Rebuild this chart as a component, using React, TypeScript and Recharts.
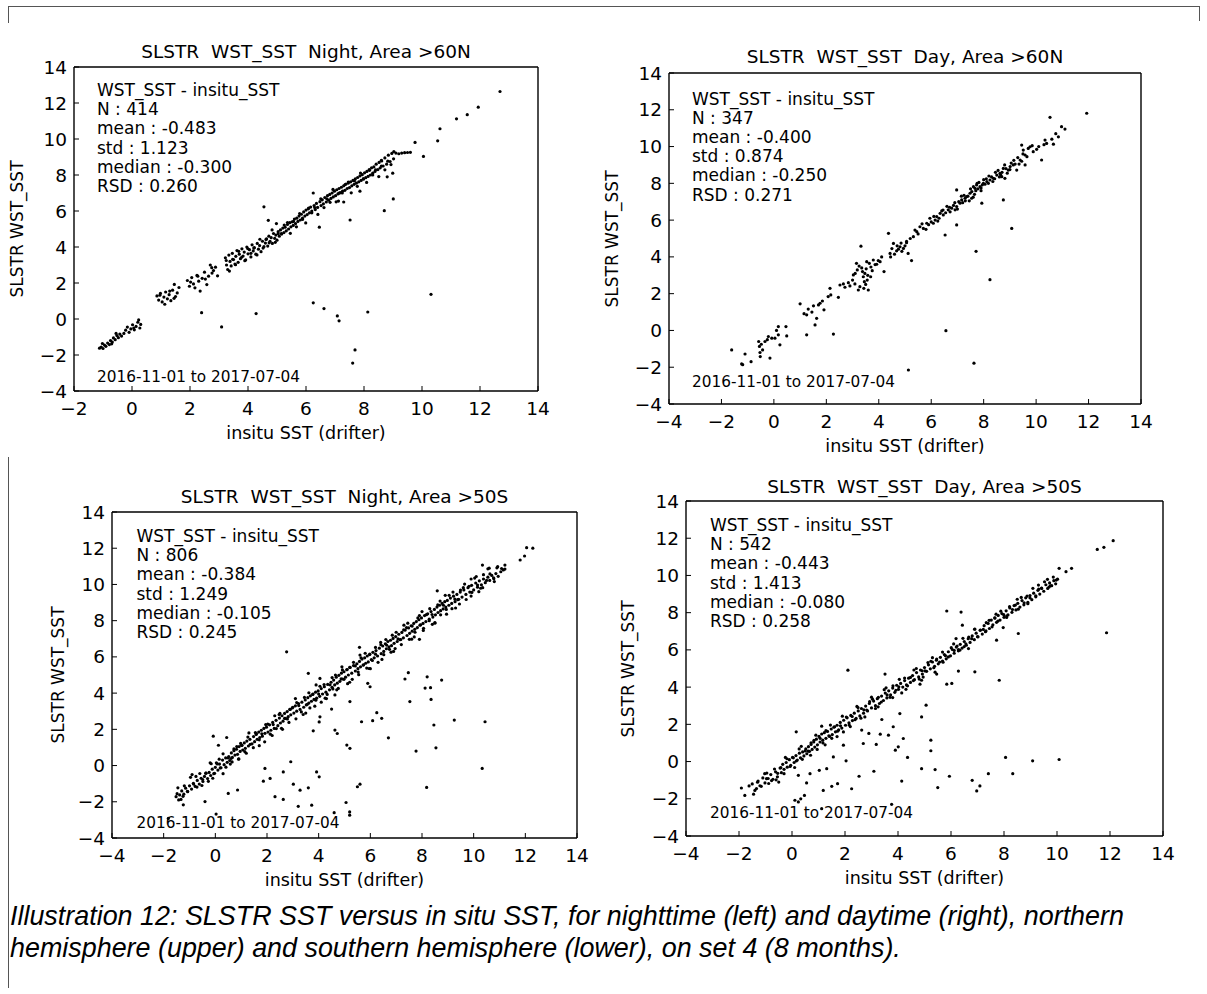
import React from 'react';
import { ScatterChart, Scatter, XAxis, YAxis } from 'recharts';

type Pt = [number, number];

// axis ticks
const yTicks = [-4, -2, 0, 2, 4, 6, 8, 10, 12, 14];
const xTicksNarrow = [-2, 0, 2, 4, 6, 8, 10, 12, 14];
const xTicksWide = [-4, -2, 0, 2, 4, 6, 8, 10, 12, 14];

const dateRange = '2016-11-01 to 2017-07-04';

// ---- Night, Area >60N ----
const nightNorthBand: Pt[] = [
  [-1.12, -1.62], [-1.06, -1.56], [-1.0, -1.64], [-0.95, -1.45], [-0.9, -1.52], [-0.84, -1.34], [-0.78, -1.42],
  [-0.74, -1.2], [-0.68, -1.28], [-0.64, -1.05], [-0.58, -1.15], [-0.52, -0.92], [-0.47, -1.04], [-0.42, -0.84],
  [-0.36, -0.95], [-0.22, -0.62], [-0.16, -0.45], [-0.1, -0.74], [-0.04, -0.55], [0.02, -0.32], [0.08, -0.6],
  [0.14, -0.41], [0.2, -0.18], [0.27, -0.5], [0.3, -0.3],
  [0.86, 1.28], [0.92, 1.05], [0.98, 1.42], [1.04, 0.95], [1.1, 1.22], [1.16, 1.5], [1.22, 1.12], [1.28, 1.35],
  [1.34, 1.02], [1.4, 1.6], [1.46, 1.92], [1.5, 1.25], [1.56, 1.45], [1.62, 1.75],
  [1.91, 2.14], [1.98, 1.82], [2.06, 2.3], [2.12, 1.95], [2.17, 1.73], [2.24, 2.42], [2.3, 2.1], [2.35, 1.55],
  [2.42, 2.26], [2.5, 2.6], [2.58, 1.91], [2.64, 2.38], [2.7, 3.0], [2.76, 2.55], [2.81, 2.69], [2.88, 2.88], [2.95, 2.4],
  [3.22, 3.4], [3.26, 3.0], [3.3, 2.75], [3.34, 3.55], [3.38, 3.2], [3.42, 2.95], [3.46, 3.65], [3.5, 3.3],
  [3.55, 3.05], [3.58, 3.48], [3.62, 3.8], [3.66, 3.15], [3.7, 3.6], [3.74, 3.35], [3.79, 3.9], [3.83, 3.5],
  [3.87, 3.72], [3.92, 3.28], [3.96, 4.0], [4.0, 3.62], [4.05, 3.85], [4.1, 3.45], [4.14, 4.12], [4.18, 3.78],
  [4.22, 3.96], [4.27, 3.6], [4.32, 4.2], [4.36, 3.88], [4.4, 4.08], [4.45, 3.74], [4.5, 4.32], [4.55, 4.02],
  [4.6, 4.22], [4.64, 4.45], [4.68, 4.05], [4.72, 4.6], [4.76, 4.32], [4.8, 4.52], [4.84, 4.2], [4.88, 4.75],
  [4.92, 4.48], [4.96, 4.66], [5.0, 4.38], [5.04, 4.85], [5.08, 4.6], [5.12, 4.95], [5.16, 4.72], [5.2, 5.05],
  [5.24, 4.8], [5.28, 5.1], [5.32, 4.9], [5.36, 5.25], [5.4, 5.0], [5.44, 5.35], [5.48, 5.12], [5.52, 5.4],
  [5.56, 5.2], [5.6, 5.55], [5.64, 5.3], [5.68, 5.6], [5.72, 5.42], [5.76, 5.72], [5.8, 5.5], [5.84, 5.82],
  [5.88, 5.6], [5.92, 5.95], [5.96, 5.72], [6.0, 6.05], [6.04, 5.8], [6.08, 6.12], [6.12, 5.9], [6.16, 6.22],
  [6.2, 6.0], [6.28, 6.3], [6.32, 6.08], [6.36, 6.42], [6.4, 6.2], [6.48, 6.52],
  [6.52, 6.3], [6.56, 6.62], [6.6, 6.4], [6.65, 6.75], [6.7, 6.5], [6.74, 6.85], [6.78, 6.6], [6.82, 6.92],
  [6.86, 6.7], [6.9, 7.0], [6.94, 6.78], [6.98, 7.1], [7.02, 6.85], [7.06, 7.18], [7.1, 6.95], [7.14, 7.25],
  [7.18, 7.02], [7.12, 6.55], [7.22, 7.32], [7.26, 7.1], [7.3, 7.4], [7.34, 7.15], [7.38, 7.5], [7.42, 7.25],
  [7.46, 7.55], [7.5, 7.3], [7.54, 7.62], [7.58, 7.4], [7.62, 7.7], [7.66, 7.48], [7.7, 7.78], [7.74, 7.55],
  [7.78, 7.86], [7.82, 7.62], [7.86, 7.95], [7.9, 7.7], [7.94, 8.02], [7.98, 7.78], [8.02, 8.12], [8.06, 7.85],
  [8.1, 8.2], [8.14, 7.92], [8.18, 8.3], [8.22, 8.0], [8.26, 8.4], [8.3, 8.1], [8.34, 8.45], [8.38, 8.2],
  [8.42, 8.6], [8.48, 8.3], [8.52, 8.7], [8.56, 8.4], [8.6, 8.82], [8.66, 8.5], [8.72, 8.95], [8.78, 8.6],
  [8.84, 9.1], [8.9, 8.75], [8.96, 9.2], [9.02, 8.9], [9.1, 9.22], [9.2, 9.18], [9.3, 9.22], [9.4, 9.24],
  [9.5, 9.25], [9.6, 9.26], [7.3, 6.5], [7.86, 7.1], [8.99, 8.1], [8.8, 7.9], [8.6, 8.5],
];
const nightNorthFill: Pt[] = [
  [3.25, 3.25], [3.36, 2.66], [3.47, 3.32], [3.57, 3.02], [3.68, 3.76], [3.78, 3.43], [3.89, 3.24], [3.99, 3.91],
  [4.1, 3.65], [4.2, 3.94], [4.31, 3.56], [4.41, 4.43], [4.52, 3.94], [4.62, 4.42], [4.73, 4.23], [4.83, 4.95],
  [4.94, 4.26], [5.04, 4.74], [5.15, 4.75], [5.25, 5.22], [5.36, 5.36], [5.46, 4.76], [5.57, 5.42], [5.67, 5.12],
  [5.78, 5.86], [5.88, 5.53], [5.99, 5.34], [6.09, 6.16], [6.2, 5.9], [6.3, 6.19], [6.41, 5.81], [6.51, 6.68],
  [6.62, 6.19], [6.72, 6.67], [6.83, 6.48], [6.93, 7.2], [7.04, 6.51], [7.14, 6.99], [7.25, 7.0], [7.35, 7.47],
  [7.46, 7.61], [7.56, 7.01], [7.67, 7.67], [7.77, 7.37], [7.88, 8.11], [7.98, 7.78], [8.09, 7.59], [8.19, 8.26],
  [8.3, 8.0], [8.4, 8.29], [8.51, 7.91], [8.61, 8.78], [8.72, 8.29], [8.82, 8.77], [8.93, 8.58], [9.03, 9.3],
  [-1.02, -1.36], [-0.7, -1.38], [-0.55, -0.8], [-0.28, -0.8], [0.06, -0.5], [0.23, -0.05], [0.96, 1.32],
  [1.13, 0.82], [1.3, 1.55], [1.45, 1.15], [2.02, 2.05], [2.27, 2.38], [2.53, 2.22], [2.75, 2.85],
];
const nightNorthOutliers: Pt[] = [
  [2.4, 0.35], [3.09, -0.44], [4.28, 0.3], [4.55, 6.23], [4.7, 5.48], [4.98, 5.3], [6.25, 0.9], [6.62, 0.58],
  [7.08, 0.17], [7.14, -0.1], [7.69, -1.72], [7.61, -2.45], [8.13, 0.39], [10.31, 1.37], [8.7, 6.02],
  [9.01, 6.67], [9.76, 9.81], [10.05, 9.03], [10.54, 9.9], [10.62, 10.57], [11.19, 11.12], [11.56, 11.35],
  [11.94, 11.77], [12.69, 12.64], [6.25, 7.0], [6.46, 5.1], [7.52, 5.5],
];

// ---- Day, Area >60N ----
const dayNorthBand: Pt[] = [
  [-1.61, -1.06], [-1.23, -1.82], [-1.19, -1.86], [-1.1, -1.28], [-0.87, -1.7], [-0.58, -0.6], [-0.55, -0.87],
  [-0.53, -1.2], [-0.52, -1.42], [-0.43, -1.06], [-0.34, -0.6], [-0.21, -0.33], [-0.08, -0.42],
  [0.04, -0.42], [0.17, -0.24], [0.17, 0.21], [0.23, -0.78], [0.46, 0.21], [0.49, -0.3], [-0.48, -0.75],
  [-0.25, -0.5], [0.1, 0.0],
  [1.0, 1.45], [1.15, 0.91], [1.25, 0.85], [1.31, 1.16], [1.51, 1.34], [1.63, 0.66], [1.7, 1.39],
  [1.76, 1.48], [1.91, 1.12], [2.07, 1.84], [2.14, 2.29], [2.17, 1.93], [1.45, 1.0], [1.85, 1.6],
  [2.46, 1.8], [2.52, 2.47], [2.65, 2.53], [2.71, 2.35], [2.84, 2.6], [2.9, 2.42], [3.0, 2.74], [3.03, 3.02],
  [3.09, 2.53], [3.15, 3.65], [3.18, 3.29], [3.22, 2.2], [3.28, 2.38], [3.35, 3.4], [3.41, 2.92],
  [3.43, 2.29], [3.47, 3.1], [3.54, 3.74], [3.56, 2.74], [3.6, 2.2], [3.64, 3.65], [3.69, 2.92], [3.79, 3.83],
  [3.86, 3.58], [3.98, 3.8], [4.05, 3.74], [4.11, 4.0], [4.2, 3.2], [3.25, 3.5], [3.38, 3.2], [3.5, 2.5],
  [3.52, 3.35], [3.58, 3.0], [3.7, 3.45], [3.75, 3.25], [3.92, 3.6], [3.1, 3.1], [3.45, 2.65],
  [4.43, 4.19], [4.56, 4.73], [4.68, 4.33], [4.81, 4.55], [4.94, 4.46], [5.06, 4.77], [4.45, 4.0],
  [4.6, 4.15], [4.75, 4.42], [4.88, 4.3], [5.0, 4.6], [5.12, 4.19], [5.25, 3.8], [5.06, 4.84],
  [5.32, 5.1], [5.38, 5.46], [5.45, 5.37], [5.57, 5.64], [5.7, 5.55], [5.83, 5.83], [5.95, 6.1], [6.08, 5.83],
  [6.21, 6.19], [6.34, 6.37], [6.46, 6.28], [6.65, 6.56], [6.78, 6.65], [6.91, 6.56], [6.97, 6.74], [6.97, 7.64],
  [7.1, 6.92], [7.16, 7.1], [7.29, 7.19], [7.35, 7.28], [7.48, 7.46], [7.54, 7.19], [7.61, 7.82], [7.67, 7.73],
  [7.73, 7.91], [7.86, 7.82], [7.99, 8.0], [8.12, 8.09], [8.24, 8.18], [8.37, 8.27], [8.5, 8.45], [8.62, 8.54],
  [8.69, 8.36], [8.75, 8.81], [8.81, 8.27], [8.94, 8.72], [9.01, 8.91], [9.13, 9.0], [9.26, 8.72], [9.39, 9.27],
  [9.45, 10.08], [9.51, 9.81], [9.58, 9.54], [9.58, 9.0], [9.7, 9.9], [9.77, 9.99], [9.89, 9.72], [10.02, 9.85],
  [10.21, 9.27], [10.34, 10.35], [10.4, 10.17], [10.53, 11.59], [10.66, 10.13], [10.85, 10.53], [10.97, 11.08],
  [11.1, 10.95], [11.93, 11.81],
  [6.0, 5.9], [6.15, 6.0], [6.3, 6.1], [6.4, 6.5], [6.55, 6.4], [6.6, 6.75], [6.72, 6.45], [6.85, 6.8],
  [7.05, 7.0], [7.2, 6.95], [7.25, 7.35], [7.4, 7.3], [7.45, 7.05], [7.55, 7.55], [7.65, 7.4], [7.7, 7.6],
  [7.78, 7.7], [7.82, 8.05], [7.9, 7.75], [7.95, 7.92], [8.05, 7.95], [8.1, 8.25], [8.18, 8.0], [8.3, 8.35],
  [8.42, 8.25], [8.55, 8.7], [8.6, 8.35], [8.7, 8.6], [8.85, 8.8], [8.9, 8.55], [9.05, 9.1], [9.2, 9.05],
  [9.3, 9.4], [9.45, 9.2],
];
const dayNorthFill: Pt[] = [
  [4.5, 4.45], [4.7, 4.6], [4.85, 4.75], [5.2, 5.0], [5.5, 5.25], [5.65, 5.8], [5.8, 5.5], [5.9, 5.75],
  [6.1, 6.2], [6.25, 5.95], [6.45, 6.55], [6.7, 6.7], [6.9, 6.95], [7.0, 6.6], [7.15, 7.3], [7.3, 7.05],
  [7.5, 7.7], [7.6, 7.25], [7.75, 8.0], [7.9, 7.6], [8.0, 8.2], [8.2, 8.4], [8.35, 8.1], [8.45, 8.6],
  [8.65, 8.45], [8.8, 9.0], [9.0, 8.75], [9.15, 9.25], [9.35, 9.05], [9.5, 9.6], [9.65, 9.45], [9.85, 10.05],
  [10.1, 10.0], [10.3, 10.1], [10.6, 10.4], [10.75, 10.7],
];
const dayNorthOutliers: Pt[] = [
  [-0.15, -1.5], [1.57, 0.3], [1.25, -0.24], [2.27, -0.2], [3.32, 4.58], [4.37, 5.28], [6.53, 5.19],
  [6.97, 5.74], [7.93, 6.92], [8.75, 7.1], [9.07, 5.55], [7.71, 4.3], [8.24, 2.76], [6.56, -0.01],
  [7.63, -1.78], [5.13, -2.15],
];

// ---- Night, Area >50S ----
const nightSouthBand: Pt[] = [
  [-1.52, -1.72], [-1.48, -1.55], [-1.42, -1.9], [-1.38, -1.62], [-1.3, -1.4], [-1.22, -1.58], [-1.15, -1.25],
  [-1.08, -1.42], [-1.0, -1.12], [-0.92, -1.3], [-0.85, -0.98], [-0.78, -1.15], [-0.7, -0.82], [-0.62, -1.02],
  [-0.55, -0.7], [-0.48, -0.88],
  [-0.42, -0.6], [-0.36, -0.42], [-0.3, -0.72], [-0.24, -0.38], [-0.18, -0.55], [-0.12, -0.2], [-0.06, -0.45],
  [0.0, -0.1], [0.04, 0.15], [0.1, -0.25], [0.16, 0.08], [0.22, -0.12], [0.28, 0.3], [0.34, 0.05], [0.4, 0.42],
  [0.46, 0.18],
  [0.52, 0.5], [0.56, 0.28], [0.62, 0.7], [0.66, 0.45], [0.72, 0.82], [0.76, 0.58], [0.82, 0.9], [0.86, 0.62],
  [0.92, 1.05], [0.96, 0.78], [1.02, 1.12], [1.06, 0.86], [1.12, 1.25], [1.16, 0.95], [1.22, 1.35], [1.28, 1.08],
  [1.34, 1.45], [1.42, 1.2],
  [1.48, 1.6], [1.52, 1.32], [1.58, 1.72], [1.62, 1.45], [1.68, 1.85], [1.72, 1.55], [1.78, 1.95], [1.82, 1.62],
  [1.88, 2.05], [1.92, 1.78], [1.98, 2.12], [2.04, 1.85], [2.1, 2.25], [2.15, 1.95], [2.22, 2.38], [2.28, 2.05],
  [2.35, 2.5], [2.42, 2.2],
  [2.48, 2.62], [2.52, 2.35], [2.58, 2.75], [2.62, 2.45], [2.68, 2.88], [2.72, 2.6], [2.78, 2.98], [2.82, 2.7],
  [2.88, 3.1], [2.92, 2.8], [2.98, 3.18], [3.04, 2.9], [3.1, 3.3], [3.15, 3.0], [3.22, 3.42], [3.28, 3.1],
  [3.35, 3.5], [3.42, 3.22],
  [3.48, 3.62], [3.52, 3.35], [3.58, 3.75], [3.62, 3.45], [3.68, 3.85], [3.72, 3.55], [3.78, 3.95], [3.82, 3.65],
  [3.88, 4.05], [3.92, 3.72], [3.98, 4.12], [4.04, 3.82], [4.1, 4.25], [4.15, 3.95], [4.22, 4.35], [4.28, 4.05],
  [4.35, 4.48], [4.42, 4.18],
  [4.48, 4.6], [4.52, 4.32], [4.58, 4.72], [4.62, 4.45], [4.68, 4.88], [4.72, 4.55], [4.78, 4.98], [4.82, 4.65],
  [4.88, 5.1], [4.92, 4.78], [4.98, 5.18], [5.04, 4.88], [5.1, 5.3], [5.15, 5.0], [5.22, 5.42], [5.28, 5.1],
  [5.35, 5.52], [5.42, 5.22],
  [5.48, 5.62], [5.52, 5.35], [5.58, 5.75], [5.62, 5.45], [5.68, 5.88], [5.72, 5.55], [5.78, 5.95], [5.82, 5.65],
  [5.88, 6.05], [5.92, 5.72], [5.98, 6.15], [6.04, 5.85], [6.1, 6.25], [6.15, 5.95], [6.22, 6.35], [6.28, 6.05],
  [6.35, 6.48], [6.42, 6.18],
  [6.48, 6.6], [6.52, 6.3], [6.58, 6.72], [6.62, 6.45], [6.68, 6.85], [6.72, 6.55], [6.78, 6.92], [6.82, 6.62],
  [6.88, 7.02], [6.92, 6.75], [6.98, 7.12], [7.04, 6.85], [7.1, 7.25], [7.15, 6.95], [7.22, 7.35], [7.28, 7.05],
  [7.35, 7.48], [7.42, 7.18],
  [7.48, 7.6], [7.52, 7.3], [7.58, 7.72], [7.62, 7.42], [7.68, 7.85], [7.72, 7.52], [7.78, 7.95], [7.82, 7.62],
  [7.88, 8.05], [7.92, 7.75], [7.98, 8.15], [8.04, 7.85], [8.1, 8.28], [8.15, 7.95], [8.22, 8.38], [8.28, 8.08],
  [8.35, 8.5], [8.42, 8.2],
  [8.48, 8.62], [8.52, 8.32], [8.58, 8.75], [8.62, 8.45], [8.68, 8.85], [8.72, 8.55], [8.78, 8.95], [8.82, 8.65],
  [8.88, 9.05], [8.92, 8.75], [8.98, 9.12], [9.04, 8.85], [9.1, 9.25], [9.15, 8.95], [9.22, 9.35], [9.28, 9.05],
  [9.35, 9.45], [9.42, 9.18],
  [9.48, 9.58], [9.55, 9.3], [9.62, 9.7], [9.7, 9.45], [9.78, 9.82], [9.85, 9.58], [9.92, 9.95], [10.0, 9.7],
  [10.08, 10.08], [10.15, 9.85], [10.22, 10.2], [10.3, 9.98], [10.38, 10.3], [10.45, 10.1],
  [10.55, 10.4], [10.62, 10.22], [10.7, 10.5], [10.78, 10.32], [10.86, 10.6], [10.95, 10.45], [11.05, 10.7],
  [11.15, 10.8],
  [-0.9, -0.5], [-0.2, 0.15], [0.3, -0.45], [0.9, 0.35], [1.3, 1.8], [1.7, 1.1], [2.3, 2.75], [2.6, 2.0],
  [3.1, 3.7], [3.5, 2.9], [3.9, 4.45], [4.3, 3.7], [4.9, 5.45], [5.2, 4.6], [5.6, 6.1], [6.0, 5.35],
  [6.4, 6.8], [6.9, 6.3], [7.3, 7.75], [7.7, 7.1], [8.0, 8.5], [8.4, 7.8], [8.9, 9.4], [9.3, 8.7],
  [9.9, 10.3], [10.2, 9.6], [10.6, 10.9],
];
const nightSouthFill: Pt[] = [
  [-1.45, -1.23], [-1.33, -1.87], [-1.2, -1.12], [-1.07, -1.44], [-0.96, -0.65], [-0.84, -1.02], [-0.71, -1.19],
  [-0.6, -0.44], [-0.49, -0.77], [-0.37, -0.42], [-0.27, -0.87], [-0.16, 0.1], [-0.03, -0.43], [0.07, 0.09],
  [0.19, -0.13], [0.3, 0.65], [0.41, -0.09], [0.5, 0.42], [0.61, 0.39], [0.72, 0.92], [0.83, 1.05], [0.91, 0.37],
  [1.03, 1.11], [1.14, 0.77], [1.26, 1.57], [1.35, 1.17], [1.47, 0.99], [1.59, 1.75], [1.7, 1.42], [1.8, 1.75],
  [1.91, 1.31], [2.03, 2.29], [2.13, 1.73], [2.24, 2.26], [2.36, 2.04], [2.47, 2.82], [2.56, 2.06], [2.68, 2.6],
  [2.79, 2.57], [2.9, 3.1], [3.0, 3.22], [3.12, 2.58], [3.23, 3.31], [3.33, 2.96], [3.45, 3.76], [3.56, 3.38],
  [3.66, 3.18], [3.77, 3.93], [3.89, 3.61], [4.0, 3.95], [4.1, 3.5], [4.21, 4.47], [4.33, 3.93], [4.44, 4.46],
  [4.55, 4.23], [4.65, 5.0], [4.76, 4.26], [4.87, 4.79], [4.98, 4.76], [5.09, 5.29], [5.2, 5.42], [5.3, 4.76],
  [5.42, 5.5], [5.53, 5.16], [5.64, 5.95], [5.74, 5.56], [5.86, 5.38], [5.97, 6.13], [6.08, 5.8], [6.2, 6.15],
  [6.3, 5.7], [6.41, 6.67], [6.52, 6.12], [6.63, 6.65], [6.74, 6.42], [6.85, 7.2], [6.96, 6.46], [7.07, 6.99],
  [7.18, 6.96], [7.29, 7.49], [7.4, 7.62], [7.51, 6.97], [7.62, 7.7], [7.73, 7.36], [7.84, 8.15], [7.95, 7.77],
  [8.06, 7.58], [8.17, 8.33], [8.28, 8.0], [8.39, 8.34], [8.5, 7.9], [8.61, 8.87], [8.72, 8.32], [8.83, 8.85],
  [8.94, 8.62], [9.05, 9.4], [9.16, 8.66], [9.27, 9.19], [9.38, 9.16], [9.49, 9.69], [9.6, 9.82], [9.71, 9.17],
  [9.82, 9.9], [9.93, 9.56], [10.04, 10.35], [10.15, 9.97], [10.27, 9.79], [10.38, 10.54], [10.5, 10.22],
  [10.63, 10.58], [10.77, 10.37], [10.9, 10.92], [11.08, 10.88],
  [0.15, 0.35], [0.58, 0.08], [0.98, 1.22], [1.2, 0.68], [1.55, 1.82], [1.95, 2.26], [2.2, 1.66], [2.5, 2.88],
  [2.85, 2.38], [3.15, 3.48], [3.4, 2.82], [3.62, 4.02], [3.85, 3.28], [4.05, 4.38], [4.25, 3.72], [4.52, 4.86],
  [4.7, 4.18], [4.92, 5.28], [5.12, 4.52], [5.35, 5.7], [5.55, 5.02], [5.8, 6.2], [5.95, 5.36], [6.2, 6.52],
  [6.45, 5.86], [6.6, 6.96], [6.8, 6.26], [7.0, 7.36], [7.2, 6.68], [7.45, 7.86], [7.6, 6.98], [7.9, 8.28],
  [8.05, 7.46], [8.3, 8.66], [8.5, 7.86], [8.7, 9.08], [8.95, 8.36], [9.2, 9.58], [9.45, 8.92], [9.65, 10.02],
  [9.9, 9.36], [10.1, 10.44], [10.35, 9.82], [10.55, 10.86], [10.8, 10.16], [-1.25, -1.7], [-0.75, -0.6],
  [-0.52, -1.1], [-0.1, -0.7], [0.65, 0.2],
];
const nightSouthOutliers: Pt[] = [
  [2.76, 6.28], [-0.08, 1.62], [0.44, 1.55], [0.12, 1.12], [0.5, -1.54], [0.86, -1.35], [-0.4, -1.99],
  [-1.24, -2.17], [-1.82, -2.92], [0.03, -2.68], [1.92, -0.16], [1.86, -0.86], [2.12, -0.71], [2.31, -1.72],
  [2.63, -1.87], [2.63, -0.35], [2.92, 0.21], [3.02, -1.03], [3.21, -2.25], [3.28, -1.36], [3.6, -1.23],
  [3.73, -2.19], [3.92, -0.35], [4.02, -0.62], [3.79, 1.92], [4.05, 2.69], [4.02, 2.41], [3.6, 5.09],
  [4.05, 4.81], [4.6, -2.6], [5.58, 6.53], [7.34, 4.78], [7.47, 5.13], [8.2, 4.9], [8.12, 4.28], [8.33, 4.3],
  [8.35, 3.65], [8.76, 4.72], [8.59, 9.65], [7.9, 6.97], [10.34, 11.07], [11.8, 11.35], [12.05, 12.03],
  [12.29, 12.0], [11.97, 11.57], [10.93, 10.98], [11.21, 11.07], [11.21, 10.85], [4.5, 3.12], [4.63, 1.96],
  [4.72, 1.77], [5.09, 1.13], [5.21, 0.95], [5.21, 3.53], [4.63, 3.9], [5.5, -1.17], [5.6, -1.03],
  [5.06, -2.04], [5.2, -2.56], [5.2, -2.74], [5.66, 2.42], [6.09, 2.48], [6.25, 2.92], [6.44, 2.61],
  [6.7, 1.53], [5.9, 4.54], [5.99, 4.35], [7.53, 3.53], [7.77, 0.8], [8.18, -1.21], [8.46, 2.24],
  [8.54, 0.98], [9.25, 2.51], [10.44, 2.42], [10.33, -0.16],
];

// ---- Day, Area >50S ----
const daySouthBand: Pt[] = [
  [-1.91, -1.42], [-1.78, -1.82], [-1.5, -1.2], [-1.34, -1.45], [-1.28, -1.05], [-1.21, -1.3], [-1.1, -0.88],
  [-1.02, -1.15], [-0.96, -0.92], [-0.88, -1.18], [-0.8, -0.7], [-0.72, -0.95], [-0.62, -0.55], [-0.55, -0.82],
  [-0.45, -0.35], [-0.4, -0.6], [-0.35, -0.15], [-0.3, -0.42], [-0.22, -0.05], [-0.18, -0.3], [-0.1, 0.1],
  [-0.05, -0.2], [0.02, 0.22], [0.08, -0.05], [0.15, 0.32], [0.2, 0.08], [0.28, 0.45], [0.32, 0.2], [0.4, 0.52],
  [0.45, 0.3],
  [0.52, 0.68], [0.56, 0.42], [0.62, 0.8], [0.66, 0.55], [0.72, 0.92], [0.76, 0.65], [0.82, 1.05], [0.86, 0.78],
  [0.92, 1.2], [0.96, 0.9], [1.02, 1.35], [1.06, 1.05], [1.12, 1.48], [1.16, 1.15], [1.22, 1.55], [1.28, 1.25],
  [1.34, 1.62], [1.42, 1.35],
  [1.48, 1.75], [1.52, 1.45], [1.58, 1.85], [1.64, 1.6], [1.7, 1.95], [1.76, 1.7], [1.82, 2.1], [1.88, 1.8],
  [1.95, 2.22], [2.02, 1.95], [2.08, 2.35], [2.15, 2.08], [2.22, 2.48], [2.28, 2.2], [2.35, 2.6], [2.42, 2.32],
  [2.5, 2.72], [2.56, 2.45], [2.62, 2.85], [2.7, 2.6], [2.78, 2.98], [2.85, 2.72], [2.92, 3.12], [3.0, 2.88],
  [3.08, 3.25], [3.15, 3.0], [3.22, 3.38], [3.3, 3.12], [3.38, 3.52], [3.45, 3.28],
  [3.52, 3.68], [3.58, 3.42], [3.65, 3.8], [3.72, 3.58], [3.8, 3.95], [3.88, 3.72], [3.95, 4.1], [4.02, 3.88],
  [4.1, 4.2], [4.18, 4.0], [4.25, 4.35], [4.32, 4.12], [4.4, 4.48], [4.47, 4.25],
  [4.55, 4.62], [4.62, 4.4], [4.7, 4.78], [4.78, 4.55], [4.85, 4.92], [4.92, 4.7], [5.0, 5.05], [5.08, 4.85],
  [5.15, 5.2], [5.22, 4.98], [5.3, 5.35], [5.38, 5.12], [5.45, 5.45], [5.52, 5.25],
  [5.6, 5.6], [5.68, 5.4], [5.75, 5.75], [5.82, 5.52], [5.9, 5.9], [5.98, 5.68], [6.05, 6.02], [6.12, 5.82],
  [6.2, 6.15], [6.28, 5.95], [6.35, 6.3], [6.42, 6.1],
  [6.5, 6.45], [6.58, 6.25], [6.65, 6.6], [6.72, 6.4], [6.8, 6.75], [6.88, 6.55], [6.95, 6.9], [7.02, 6.7],
  [7.1, 7.05], [7.18, 6.85], [7.25, 7.3], [7.32, 7.02], [7.4, 7.42], [7.45, 7.15],
  [7.52, 7.6], [7.58, 7.35], [7.65, 7.72], [7.72, 7.48], [7.78, 7.85], [7.85, 7.6], [7.92, 7.95], [8.0, 7.75],
  [8.08, 8.1], [8.15, 7.88], [8.22, 8.25], [8.3, 8.02], [8.38, 8.38], [8.45, 8.15],
  [8.52, 8.5], [8.6, 8.3], [8.68, 8.65], [8.75, 8.42], [8.82, 8.8], [8.9, 8.55], [8.98, 8.92], [9.05, 8.7],
  [9.12, 9.05], [9.2, 8.85], [9.28, 9.2], [9.35, 9.0], [9.42, 9.32], [9.5, 9.15], [9.58, 9.5], [9.65, 9.3],
  [9.72, 9.6], [9.8, 9.45], [9.88, 9.72], [9.95, 9.55], [10.02, 9.8],
];
const daySouthFill: Pt[] = [
  [-1.62, -1.31], [-1.45, -1.75], [-1.3, -1.11], [-1.16, -1.33], [-1.03, -0.65], [-0.9, -0.91], [-0.77, -1.02],
  [-0.66, -0.4], [-0.54, -0.63], [-0.42, -0.33], [-0.3, -0.65], [-0.19, 0.15], [-0.07, -0.26], [0.05, 0.2],
  [0.16, 0.03], [0.27, 0.68], [0.39, 0.12], [0.5, 0.57], [0.61, 0.56], [0.72, 1.01], [0.83, 1.14], [0.95, 0.65],
  [1.06, 1.25], [1.17, 1.0], [1.28, 1.66], [1.39, 1.38], [1.5, 1.25], [1.61, 1.87], [1.72, 1.63], [1.83, 1.92],
  [1.94, 1.59], [2.05, 2.39], [2.16, 1.97], [2.27, 2.42], [2.38, 2.25], [2.49, 2.9], [2.6, 2.33], [2.71, 2.78],
  [2.82, 2.77], [2.93, 3.22], [3.04, 3.35], [3.15, 2.85], [3.26, 3.45], [3.37, 3.2], [3.48, 3.86], [3.59, 3.58],
  [3.7, 3.45], [3.81, 4.07], [3.92, 3.83], [4.03, 4.02], [4.14, 3.69], [4.25, 4.49], [4.36, 4.07], [4.47, 4.52],
  [4.58, 4.35], [4.69, 5.0], [4.8, 4.43], [4.91, 4.88], [5.02, 4.87], [5.13, 5.32], [5.24, 5.39], [5.35, 5.04],
  [5.46, 5.51], [5.57, 5.35], [5.68, 5.88], [5.79, 5.69], [5.9, 5.62], [6.01, 6.12], [6.12, 5.97], [6.23, 6.21],
  [6.34, 5.99], [6.45, 6.62], [6.56, 6.33], [6.67, 6.69], [6.78, 6.6], [6.89, 7.11], [7.0, 6.71], [7.11, 7.07],
  [7.22, 7.1], [7.33, 7.46], [7.44, 7.59], [7.55, 7.24], [7.66, 7.71], [7.77, 7.55], [7.88, 8.08], [7.99, 7.89],
  [8.1, 7.82], [8.21, 8.32], [8.32, 8.17], [8.43, 8.41], [8.54, 8.19], [8.65, 8.82], [8.76, 8.53], [8.87, 8.89],
  [8.98, 8.8], [9.09, 9.31], [9.2, 8.91], [9.31, 9.27], [9.42, 9.3], [9.53, 9.66], [9.64, 9.79], [9.75, 9.44],
  [9.86, 9.91], [9.97, 9.75],
  [-1.4, -1.55], [-0.95, -0.62], [-0.6, -0.98], [-0.25, 0.22], [0.1, -0.32], [0.35, 0.82], [0.7, 0.34],
  [0.9, 1.42], [1.25, 0.9], [1.45, 1.96], [1.7, 1.34], [1.9, 2.44], [2.2, 1.88], [2.45, 2.96], [2.75, 2.4],
  [3.0, 3.46], [3.25, 2.94], [3.55, 3.96], [3.8, 3.44], [4.05, 4.42], [4.3, 3.88], [4.6, 4.92], [4.95, 4.54],
  [5.3, 5.58], [5.7, 5.34], [6.1, 6.32], [6.5, 6.18], [6.9, 7.12], [7.3, 6.98], [7.7, 7.92], [8.1, 7.74],
  [8.5, 8.72], [8.9, 8.48], [9.3, 9.48], [9.7, 9.38],
];
const daySouthOutliers: Pt[] = [
  [2.11, 4.91], [3.51, 4.7], [0.16, 1.6], [1.12, 1.9], [1.94, 0.88], [1.56, 0.25], [2.04, 0.04], [1.31, -0.38],
  [1.03, -0.47], [0.68, -0.65], [0.24, -0.74], [0.55, -1.15], [1.18, -1.55], [1.5, -1.33], [1.72, -1.19],
  [2.25, -1.46], [2.53, -0.79], [3.09, -0.52], [3.76, -2.3], [1.12, -2.53], [0.11, -2.08], [0.24, -2.17],
  [0.33, -2.0], [0.47, -1.82], [4.14, -1.05], [3.9, 0.61], [4.01, 0.79], [4.2, 1.24], [4.36, 0.22],
  [3.33, 1.47], [3.64, 1.42], [2.9, 1.51], [2.63, 1.69], [3.18, 0.92], [2.69, 0.97], [3.39, 2.26],
  [3.82, 1.87], [4.07, 2.58], [-0.5, -1.1],
  [10.08, 10.38], [10.34, 10.2], [10.55, 10.38], [11.52, 11.4], [11.77, 11.51], [12.12, 11.87], [11.87, 6.92],
  [8.54, 6.88], [7.72, 6.52], [7.97, 7.2], [5.84, 8.09], [6.38, 8.03], [6.43, 7.33], [6.19, 6.61],
  [6.28, 6.02], [6.66, 6.07], [6.28, 4.86], [6.9, 4.82], [7.82, 4.37], [5.4, 4.8], [5.46, 4.7], [4.83, 4.16],
  [4.89, 4.37], [5.84, 4.16], [6.03, 4.2], [5.06, 3.03], [4.89, 2.4], [5.24, 1.15], [5.24, 0.58],
  [4.89, -0.38], [5.4, -0.43], [5.94, -0.79], [5.5, -1.4], [6.8, -1.01], [6.97, -1.58], [7.09, -1.31],
  [7.41, -0.65], [8.06, 0.22], [8.33, -0.65], [9.08, 0.04], [10.08, 0.11],
];

const statsNightNorth = ['WST_SST - insitu_SST', 'N : 414', 'mean : -0.483', 'std : 1.123', 'median : -0.300', 'RSD : 0.260'];
const statsDayNorth = ['WST_SST - insitu_SST', 'N : 347', 'mean : -0.400', 'std : 0.874', 'median : -0.250', 'RSD : 0.271'];
const statsNightSouth = ['WST_SST - insitu_SST', 'N : 806', 'mean : -0.384', 'std : 1.249', 'median : -0.105', 'RSD : 0.245'];
const statsDaySouth = ['WST_SST - insitu_SST', 'N : 542', 'mean : -0.443', 'std : 1.413', 'median : -0.080', 'RSD : 0.258'];

const FONT = '"DejaVu Sans", sans-serif';
const BLACK = '#000';

const fmt = (v: number) => (v < 0 ? `\u2212${Math.abs(v)}` : `${v}`);

function Dot(props: any) {
  return <circle cx={props.cx} cy={props.cy} r={1.6} fill={BLACK} />;
}

function Blank() {
  return <g />;
}

interface PanelProps {
  left: number;
  top: number;
  width: number;
  height: number;
  xTicks: number[];
  title: string;
  titleTop: number;
  stats: string[];
  statsLeft: number;
  statsTop: number;
  dateTop: number;
  yLabelX: number;
  points: Pt[];
}

function Panel(p: PanelProps) {
  const padL = 70;
  const padT = 10;
  const padR = 22;
  const padB = 40;
  const data = p.points.map(([x, y]) => ({ x, y }));
  const xDomain = [p.xTicks[0], 14];
  const tickFont = { fontSize: 18.5, fill: BLACK, fontFamily: FONT };
  const axisLine = { stroke: BLACK, strokeWidth: 1.4 };
  const tickLine = { stroke: BLACK, strokeWidth: 1 };

  return (
    <>
      <div style={{ position: 'absolute', left: p.left - padL, top: p.top - padT }}>
        <ScatterChart
          width={p.width + padL + padR}
          height={p.height + padT + padB}
          margin={{ top: padT - 1, right: padR - 1, bottom: 0, left: 0 }}
        >
          <XAxis
            xAxisId="b"
            type="number"
            dataKey="x"
            domain={xDomain}
            ticks={p.xTicks}
            interval={0}
            allowDataOverflow
            height={padB}
            tickSize={-5}
            tickMargin={15.5}
            tick={tickFont}
            tickFormatter={fmt}
            axisLine={axisLine}
            tickLine={tickLine}
          />
          <XAxis
            xAxisId="t"
            orientation="top"
            type="number"
            dataKey="x"
            domain={xDomain}
            ticks={p.xTicks}
            interval={0}
            allowDataOverflow
            height={1}
            tickSize={-5}
            tick={false}
            axisLine={axisLine}
            tickLine={tickLine}
          />
          <YAxis
            yAxisId="l"
            type="number"
            dataKey="y"
            domain={[-4, 14]}
            ticks={yTicks}
            interval={0}
            allowDataOverflow
            width={padL}
            tickSize={-5}
            tickMargin={12}
            tick={tickFont}
            tickFormatter={fmt}
            axisLine={axisLine}
            tickLine={tickLine}
          />
          <YAxis
            yAxisId="r"
            orientation="right"
            type="number"
            dataKey="y"
            domain={[-4, 14]}
            ticks={yTicks}
            interval={0}
            allowDataOverflow
            width={1}
            tickSize={-5}
            tick={false}
            axisLine={axisLine}
            tickLine={tickLine}
          />
          <Scatter xAxisId="b" yAxisId="l" data={data} shape={Dot} isAnimationActive={false} />
          <Scatter xAxisId="t" yAxisId="r" data={data} shape={Blank} isAnimationActive={false} />
        </ScatterChart>
      </div>

      <div
        style={{
          position: 'absolute', left: p.left, width: p.width, top: p.titleTop, textAlign: 'center',
          fontFamily: FONT, fontSize: 18.5, lineHeight: '22px', whiteSpace: 'pre', color: BLACK,
        }}
      >
        {p.title}
      </div>

      <div
        style={{
          position: 'absolute', left: p.statsLeft, top: p.statsTop, fontFamily: FONT, fontSize: 17,
          lineHeight: '19.2px', whiteSpace: 'pre', color: BLACK,
        }}
      >
        {p.stats.map((s) => (
          <div key={s}>{s}</div>
        ))}
      </div>

      <div
        style={{
          position: 'absolute', left: p.statsLeft, top: p.dateTop, fontFamily: FONT, fontSize: 15.3,
          lineHeight: '18px', whiteSpace: 'pre', color: BLACK,
        }}
      >
        {dateRange}
      </div>

      <div
        style={{
          position: 'absolute', left: p.left, width: p.width, top: p.top + p.height + 32, textAlign: 'center',
          fontFamily: FONT, fontSize: 17.5, lineHeight: '21px', whiteSpace: 'pre', color: BLACK,
        }}
      >
        insitu SST (drifter)
      </div>

      <div
        style={{
          position: 'absolute', left: p.yLabelX, top: p.top + p.height / 2,
          transform: 'translate(-50%, -50%) rotate(-90deg)', fontFamily: FONT, fontSize: 17,
          lineHeight: '20px', whiteSpace: 'pre', color: BLACK,
        }}
      >
        SLSTR WST_SST
      </div>
    </>
  );
}

const lineColor = '#555';

export default function App() {
  return (
    <div
      style={{
        position: 'absolute', left: 0, top: 0, width: 1207, height: 994, background: '#fff', overflow: 'hidden',
      }}
    >
      {/* page frame fragments */}
      <div style={{ position: 'absolute', left: 8, top: 6, width: 1192, height: 0, borderTop: `1.5px solid ${lineColor}` }} />
      <div style={{ position: 'absolute', left: 8, top: 6, width: 0, height: 17, borderLeft: `1.5px solid ${lineColor}` }} />
      <div style={{ position: 'absolute', left: 1199, top: 6, width: 0, height: 15, borderLeft: `1.5px solid ${lineColor}` }} />
      <div style={{ position: 'absolute', left: 8, top: 457, width: 0, height: 531, borderLeft: `1.5px solid ${lineColor}` }} />

      <Panel
        left={74} top={67} width={464} height={324}
        xTicks={xTicksNarrow}
        title="SLSTR  WST_SST  Night, Area >60N" titleTop={40.5}
        stats={statsNightNorth} statsLeft={97} statsTop={81} dateTop={368}
        yLabelX={17}
        points={[...nightNorthBand, ...nightNorthFill, ...nightNorthOutliers]}
      />
      <Panel
        left={669} top={73} width={472} height={331}
        xTicks={xTicksWide}
        title="SLSTR  WST_SST  Day, Area >60N" titleTop={45.5}
        stats={statsDayNorth} statsLeft={692} statsTop={89.5} dateTop={372.5}
        yLabelX={612}
        points={[...dayNorthBand, ...dayNorthFill, ...dayNorthOutliers]}
      />
      <Panel
        left={112} top={512} width={465} height={326}
        xTicks={xTicksWide}
        title="SLSTR  WST_SST  Night, Area >50S" titleTop={486}
        stats={statsNightSouth} statsLeft={136.5} statsTop={527} dateTop={814}
        yLabelX={58}
        points={[...nightSouthBand, ...nightSouthFill, ...nightSouthOutliers]}
      />
      <Panel
        left={686} top={501} width={477} height={335}
        xTicks={xTicksWide}
        title="SLSTR  WST_SST  Day, Area >50S" titleTop={475.5}
        stats={statsDaySouth} statsLeft={710} statsTop={516} dateTop={803.5}
        yLabelX={628}
        points={[...daySouthBand, ...daySouthFill, ...daySouthOutliers]}
      />

      <div
        style={{
          position: 'absolute', left: 10, top: 900, fontFamily: '"Liberation Sans", Arial, sans-serif',
          fontStyle: 'italic', fontSize: 26.9, lineHeight: '32px', whiteSpace: 'nowrap', color: BLACK,
        }}
      >
        Illustration 12: SLSTR SST versus in situ SST, for nighttime (left) and daytime (right), northern
        <br />
        hemisphere (upper) and southern hemisphere (lower), on set 4 (8 months).
      </div>
    </div>
  );
}
